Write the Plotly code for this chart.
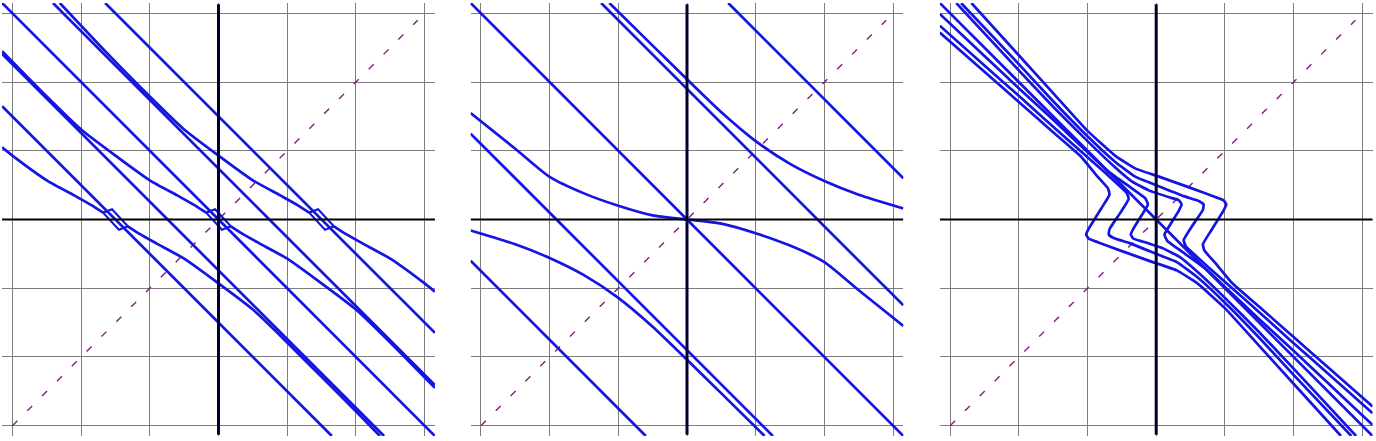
import plotly.graph_objects as go

# ---------------- data (data units) ----------------
# Panel 1 : straight lines
p1_l0_x = [-3.15, 3.15];  p1_l0_y = [3.15, -3.15]
p1_l1_x = [-1.65, 3.15];  p1_l1_y = [3.15, -1.65]
p1_l2_x = [-3.15, 1.65];  p1_l2_y = [1.65, -3.15]
p1_l3_x = [-2.41, 3.15];  p1_l3_y = [3.15, -2.41]
p1_l4_x = [-3.15, 2.41];  p1_l4_y = [2.41, -3.15]
# Panel 1 : curved branches
p1_c0_x = [-3.15, -2.5, -2.0, -1.5, -1.0, -0.6, -0.35, -0.18]
p1_c0_y = [2.45, 1.79, 1.31, 0.93, 0.57, 0.35, 0.21, 0.10]
p1_c1_x = [0.18, 0.35, 0.6, 1.0, 1.5, 2.0, 2.5, 3.15]
p1_c1_y = [-0.10, -0.21, -0.35, -0.57, -0.93, -1.31, -1.79, -2.45]
p1_c2_x = [-2.31, -1.65, -1.0, -0.5, 0.0, 0.5, 0.9, 1.15, 1.32]
p1_c2_y = [3.15, 2.45, 1.79, 1.31, 0.93, 0.57, 0.35, 0.21, 0.10]
p1_c3_x = [1.68, 1.85, 2.1, 2.5, 3.0, 3.15]
p1_c3_y = [-0.10, -0.21, -0.35, -0.57, -0.93, -1.05]
p1_c4_x = [-3.15, -3.0, -2.5, -2.1, -1.85, -1.68]
p1_c4_y = [1.05, 0.93, 0.57, 0.35, 0.21, 0.10]
p1_c5_x = [-1.32, -1.15, -0.9, -0.5, 0.0, 0.5, 1.0, 1.5, 2.0, 2.35]
p1_c5_y = [-0.10, -0.21, -0.35, -0.57, -0.93, -1.31, -1.79, -2.29, -2.79, -3.15]
# Panel 1 : small loops at the three crossings
p1_d0_x = [-0.18, -0.05, 0.18, 0.05, -0.18];  p1_d0_y = [0.10, 0.15, -0.10, -0.15, 0.10]
p1_d1_x = [1.32, 1.45, 1.68, 1.55, 1.32];     p1_d1_y = [0.10, 0.15, -0.10, -0.15, 0.10]
p1_d2_x = [-1.68, -1.55, -1.32, -1.45, -1.68]; p1_d2_y = [0.10, 0.15, -0.10, -0.15, 0.10]

# Panel 2
p2_l0_x = [-3.15, 3.15];  p2_l0_y = [3.15, -3.15]
p2_l1_x = [0.60, 3.15];   p2_l1_y = [3.15, 0.60]
p2_l2_x = [-3.15, -0.60]; p2_l2_y = [-0.60, -3.15]
p2_l3_x = [-1.25, 3.15];  p2_l3_y = [3.15, -1.25]
p2_l4_x = [-3.15, 1.25];  p2_l4_y = [1.25, -3.15]
p2_c0_x = [-1.13, -0.5, 0.0, 0.5, 1.0, 1.5, 2.0, 2.5, 3.15]
p2_c0_y = [3.15, 2.53, 2.04, 1.56, 1.14, 0.81, 0.56, 0.36, 0.16]
p2_c1_x = [-3.15, -2.5, -2.0, -1.5, -1.0, -0.5, 0.0, 0.5, 1.13]
p2_c1_y = [-0.16, -0.36, -0.56, -0.81, -1.14, -1.56, -2.04, -2.53, -3.15]
p2_c2_x = [-3.15, -2.5, -2.0, -1.5, -1.0, -0.5, 0.0, 0.5, 1.0, 1.5, 2.0, 2.5, 3.15]
p2_c2_y = [1.55, 1.03, 0.62, 0.38, 0.20, 0.06, 0.0, -0.06, -0.20, -0.38, -0.62, -1.03, -1.55]

# Panel 3 : curves with a hook on the right (a) and on the left (b)
p3_a1_x = [-2.69, -2.0, -1.5, -1.0, -0.6, -0.3, 0.05, 0.5, 0.85, 0.98, 1.02, 0.98, 0.80, 0.68,
           0.70, 0.85, 1.1, 1.5, 2.0, 2.5, 3.15]
p3_a1_y = [3.15, 2.39, 1.84, 1.29, 0.93, 0.74, 0.62, 0.46, 0.33, 0.28, 0.22, 0.13, -0.16, -0.36,
           -0.45, -0.62, -0.92, -1.27, -1.71, -2.15, -2.72]
p3_a2_x = [-2.84, -2.0, -1.5, -1.0, -0.6, -0.3, 0.0, 0.4, 0.62, 0.69, 0.68, 0.52, 0.40, 0.43,
           0.6, 0.9, 1.3, 2.0, 2.5, 3.15]
p3_a2_y = [3.15, 2.26, 1.72, 1.21, 0.84, 0.62, 0.50, 0.34, 0.27, 0.22, 0.14, -0.10, -0.30, -0.39,
           -0.55, -0.82, -1.17, -1.80, -2.24, -2.82]
p3_a3_x = [-2.91, -2.0, -1.5, -1.0, -0.6, -0.35, -0.1, 0.2, 0.33, 0.37, 0.33, 0.2, 0.12, 0.16,
           0.35, 0.7, 1.0, 1.5, 2.0, 2.5, 3.15]
p3_a3_y = [3.15, 2.17, 1.64, 1.14, 0.76, 0.55, 0.42, 0.32, 0.28, 0.22, 0.13, -0.08, -0.22, -0.31,
           -0.45, -0.70, -0.98, -1.45, -1.91, -2.38, -2.99]
p3_b1_x = [2.69, 2.0, 1.5, 1.0, 0.6, 0.3, -0.05, -0.5, -0.85, -0.98, -1.02, -0.98, -0.80, -0.68,
           -0.70, -0.85, -1.1, -1.5, -2.0, -2.5, -3.15]
p3_b1_y = [-3.15, -2.39, -1.84, -1.29, -0.93, -0.74, -0.62, -0.46, -0.33, -0.28, -0.22, -0.13, 0.16,
           0.36, 0.45, 0.62, 0.92, 1.27, 1.71, 2.15, 2.72]
p3_b2_x = [2.84, 2.0, 1.5, 1.0, 0.6, 0.3, 0.0, -0.4, -0.62, -0.69, -0.68, -0.52, -0.40, -0.43,
           -0.6, -0.9, -1.3, -2.0, -2.5, -3.15]
p3_b2_y = [-3.15, -2.26, -1.72, -1.21, -0.84, -0.62, -0.50, -0.34, -0.27, -0.22, -0.14, 0.10, 0.30,
           0.39, 0.55, 0.82, 1.17, 1.80, 2.24, 2.82]
p3_b3_x = [2.91, 2.0, 1.5, 1.0, 0.6, 0.35, 0.1, -0.2, -0.33, -0.37, -0.33, -0.2, -0.12, -0.16,
           -0.35, -0.7, -1.0, -1.5, -2.0, -2.5, -3.15]
p3_b3_y = [-3.15, -2.17, -1.64, -1.14, -0.76, -0.55, -0.42, -0.32, -0.28, -0.22, -0.13, 0.08, 0.22,
           0.31, 0.45, 0.70, 0.98, 1.45, 1.91, 2.38, 2.99]
p3_l0_x = [-3.15, 3.15];  p3_l0_y = [3.15, -3.15]

diag_x = [-3.0, 2.9]
diag_y = [-3.0, 2.9]
grid_ticks = [-3, -2, -1, 0, 1, 2, 3]

# ---------------- figure ----------------
W, H = 1376, 441
RNG = [-3.15, 3.15]
BLUE = "rgb(20,20,228)"
centers_px = [218.5, 687.0, 1156.2]
half_px = 216.4
ydom = [(H - 436.0) / H, (H - 3.0) / H]

panels = [
    [(p1_l0_x, p1_l0_y), (p1_l1_x, p1_l1_y), (p1_l2_x, p1_l2_y), (p1_l3_x, p1_l3_y),
     (p1_l4_x, p1_l4_y), (p1_c0_x, p1_c0_y), (p1_c1_x, p1_c1_y), (p1_c2_x, p1_c2_y),
     (p1_c3_x, p1_c3_y), (p1_c4_x, p1_c4_y), (p1_c5_x, p1_c5_y)],
    [(p2_l0_x, p2_l0_y), (p2_l1_x, p2_l1_y), (p2_l2_x, p2_l2_y), (p2_l3_x, p2_l3_y),
     (p2_l4_x, p2_l4_y), (p2_c0_x, p2_c0_y), (p2_c1_x, p2_c1_y), (p2_c2_x, p2_c2_y)],
    [(p3_a1_x, p3_a1_y), (p3_a2_x, p3_a2_y), (p3_a3_x, p3_a3_y), (p3_b1_x, p3_b1_y),
     (p3_b2_x, p3_b2_y), (p3_b3_x, p3_b3_y), (p3_l0_x, p3_l0_y)],
]
loops = [[(p1_d0_x, p1_d0_y), (p1_d1_x, p1_d1_y), (p1_d2_x, p1_d2_y)], [], []]
smooth = [0.6, 0.6, 0.35]

fig = go.Figure()
layout = dict(width=W, height=H, margin=dict(l=0, r=0, t=0, b=0),
              paper_bgcolor="white", plot_bgcolor="white", showlegend=False)
shapes = []
for i, curves in enumerate(panels):
    sfx = "" if i == 0 else str(i + 1)
    xa, ya = "x" + sfx, "y" + sfx
    c = centers_px[i]
    common = dict(range=RNG, tickvals=grid_ticks, showticklabels=False, ticks="",
                  showgrid=True, gridcolor="rgb(125,125,125)", gridwidth=1.4,
                  zeroline=False, showline=False, fixedrange=True)
    layout["xaxis" + sfx] = dict(domain=[(c - half_px) / W, (c + half_px) / W], anchor=ya, **common)
    layout["yaxis" + sfx] = dict(domain=ydom, anchor=xa, **common)
    fig.add_trace(go.Scatter(x=diag_x, y=diag_y, mode="lines", xaxis=xa, yaxis=ya,
                             line=dict(color="rgb(128,30,128)", width=1.4, dash="7px,14px"),
                             hoverinfo="skip"))
    for cx, cy in curves:
        shape = "spline" if len(cx) > 2 else "linear"
        fig.add_trace(go.Scatter(x=cx, y=cy, mode="lines", xaxis=xa, yaxis=ya,
                                 line=dict(color=BLUE, width=2.7, shape=shape, smoothing=smooth[i]),
                                 hoverinfo="skip"))
    for cx, cy in loops[i]:
        fig.add_trace(go.Scatter(x=cx, y=cy, mode="lines", xaxis=xa, yaxis=ya,
                                 line=dict(color=BLUE, width=2.2, shape="linear"),
                                 hoverinfo="skip"))
    shapes.append(dict(type="line", xref=xa, yref=ya, x0=0, x1=0, y0=-3.13, y1=3.13,
                       line=dict(color="rgb(0,0,45)", width=3), layer="above"))
    shapes.append(dict(type="line", xref=xa, yref=ya, x0=-3.15, x1=3.15, y0=0, y1=0,
                       line=dict(color="black", width=2), layer="above"))
layout["shapes"] = shapes
fig.update_layout(**layout)
fig.write_html("out.html", config={"displayModeBar": False},
               post_script="document.body.style.margin='0px';document.body.style.overflow='hidden';")
